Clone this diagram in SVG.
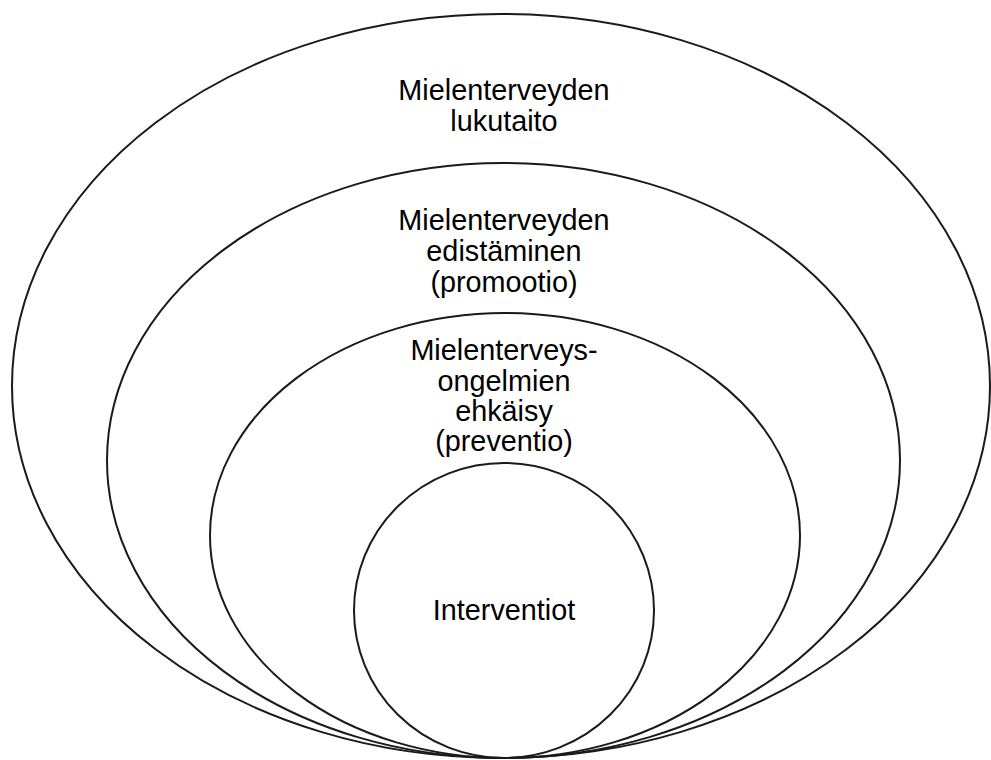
<svg xmlns="http://www.w3.org/2000/svg" width="991" height="760" viewBox="0 0 991 760">
  <style>
    .ring { fill: none; stroke: #1a1a1a; stroke-width: 2; }
    .label { font-family: "Liberation Sans", Arial, sans-serif; font-size: 28.8px; fill: #000; text-anchor: middle; }
  </style>
  <rect width="991" height="760" fill="#fff"/>

  <!-- Outermost level: mental health literacy -->
  <g id="literacy">
    <ellipse class="ring" cx="501" cy="386" rx="489" ry="372"/>
    <text class="label" x="504" y="100">Mielenterveyden</text>
    <text class="label" x="504" y="131">lukutaito</text>
  </g>

  <!-- Promotion -->
  <g id="promotion">
    <ellipse class="ring" cx="503.5" cy="460.5" rx="396.5" ry="297.5"/>
    <text class="label" x="504" y="230">Mielenterveyden</text>
    <text class="label" x="504" y="261">edistäminen</text>
    <text class="label" x="504" y="292">(promootio)</text>
  </g>

  <!-- Prevention -->
  <g id="prevention">
    <ellipse class="ring" cx="505" cy="535.5" rx="295" ry="222.5"/>
    <text class="label" x="504" y="360">Mielenterveys-</text>
    <text class="label" x="504" y="391">ongelmien</text>
    <text class="label" x="504" y="421">ehkäisy</text>
    <text class="label" x="504" y="451">(preventio)</text>
  </g>

  <!-- Innermost: interventions -->
  <g id="interventions">
    <ellipse class="ring" cx="504" cy="610.5" rx="150" ry="147.5"/>
    <text class="label" x="504" y="620">Interventiot</text>
  </g>

  <g id="connectors"/>
</svg>
